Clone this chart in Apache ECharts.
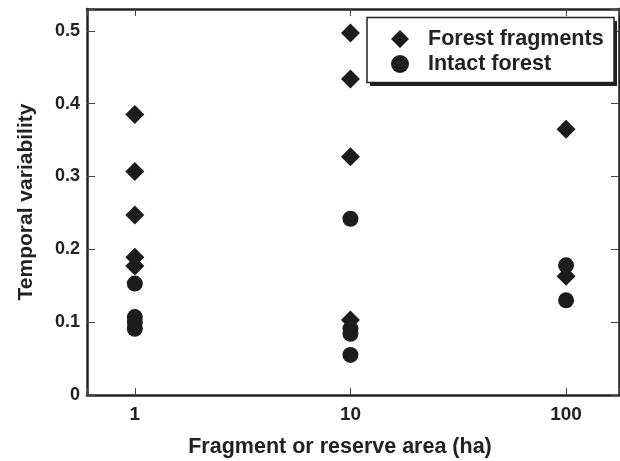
<!DOCTYPE html>
<html>
<head>
<meta charset="utf-8">
<script src="https://cdn.jsdelivr.net/npm/echarts@6/dist/echarts.min.js"></script>
<style>html,body{margin:0;padding:0;background:#fff;}#c{width:620px;height:461px;}</style>
</head>
<body>
<div id="c"></div>
<script>
var fragArea = [1, 1, 1, 1, 1, 10, 10, 10, 10, 100, 100];
var fragValues = [0.385, 0.307, 0.247, 0.189, 0.177, 0.497, 0.434, 0.327, 0.103, 0.365, 0.163];
var intactArea = [1, 1, 1, 1, 10, 10, 10, 10, 100, 100];
var intactValues = [0.153, 0.107, 0.100, 0.091, 0.242, 0.091, 0.084, 0.055, 0.178, 0.130];
var xTicks = [1, 10, 100];
var yTicks = [0, 0.1, 0.2, 0.3, 0.4, 0.5];
var seriesNames = ['Forest fragments', 'Intact forest'];

function pairs(xs, ys) { return xs.map(function (x, i) { return [x, ys[i]]; }); }

var ink = '#222';
var font = 'Liberation Sans, Arial, sans-serif';
function yFmt(v) {
  for (var i = 0; i < yTicks.length; i++) if (Math.abs(v - yTicks[i]) < 1e-9) return yTicks[i] === 0 ? '0' : yTicks[i].toFixed(1);
  return '';
}
function xFmt(v) {
  for (var i = 0; i < xTicks.length; i++) if (Math.abs(v - xTicks[i]) < 1e-6 * xTicks[i]) return String(xTicks[i]);
  return '';
}
var lineStyle = { color: ink, width: 2.5 };
var tickStyle = { color: '#444', width: 1 };

var chart = echarts.init(document.getElementById('c'), null, { renderer: 'canvas' });
chart.setOption({
  animation: false,
  backgroundColor: '#fff',
  grid: { left: 87, right: 1, top: 9, bottom: 66, containLabel: false, outerBoundsMode: 'none' },
  graphic: [{
    type: 'rect', z: 3, silent: true,
    shape: { x: 370, y: 21, width: 247, height: 65 },
    style: { fill: ink }
  }, {
    type: 'rect', z: 3, silent: true,
    shape: { x: 367, y: 17.5, width: 247, height: 65 },
    style: { fill: '#fff', stroke: ink, lineWidth: 1.5 }
  }],
  legend: {
    data: seriesNames,
    orient: 'vertical',
    left: 391, top: 28,
    padding: 0,
    itemGap: 3,
    itemWidth: 18, itemHeight: 18,
    z: 5,
    textStyle: { color: ink, fontFamily: font, fontWeight: 'bold', fontSize: 21.5, padding: [0, 0, 0, 14] }
  },
  xAxis: [{
    type: 'log', logBase: 10, min: 0.6, max: 176,
    position: 'bottom',
    name: 'Fragment or reserve area (ha)', nameLocation: 'middle', nameGap: 41,
    nameTextStyle: { color: ink, fontFamily: font, fontWeight: 'bold', fontSize: 21.5, padding: [0, 26, 0, 0] },
    axisLine: { show: true, onZero: false, lineStyle: lineStyle },
    axisTick: { show: true, inside: true, length: 7, lineStyle: tickStyle },
    axisLabel: { formatter: xFmt, color: ink, fontFamily: font, fontWeight: 'bold', fontSize: 19, margin: 10 },
    splitLine: { show: false }, minorTick: { show: false }
  }, {
    type: 'log', logBase: 10, min: 0.6, max: 176,
    position: 'top',
    axisLine: { show: true, onZero: false, lineStyle: lineStyle },
    axisTick: { show: true, inside: true, length: 7, lineStyle: tickStyle },
    axisLabel: { show: false },
    splitLine: { show: false }
  }],
  yAxis: [{
    type: 'value', min: 0, max: 0.53, interval: 0.1,
    position: 'left',
    name: 'Temporal variability', nameLocation: 'middle', nameGap: 50, nameRotate: 90,
    nameTextStyle: { color: ink, fontFamily: font, fontWeight: 'bold', fontSize: 21 },
    axisLine: { show: true, onZero: false, lineStyle: lineStyle },
    axisTick: { show: true, inside: true, length: 8, lineStyle: tickStyle },
    axisLabel: { formatter: yFmt, color: ink, fontFamily: font, fontWeight: 'bold', fontSize: 18, margin: 7 },
    splitLine: { show: false }
  }, {
    type: 'value', min: 0, max: 0.53, interval: 0.1,
    position: 'right',
    axisLine: { show: true, onZero: false, lineStyle: lineStyle },
    axisTick: { show: true, inside: true, length: 8, lineStyle: tickStyle },
    axisLabel: { show: false },
    splitLine: { show: false }
  }],
  series: [{
    name: seriesNames[0], type: 'scatter', symbol: 'diamond', symbolSize: 19,
    itemStyle: { color: '#1c1c1c', opacity: 1 },
    data: pairs(fragArea, fragValues), z: 3
  }, {
    name: seriesNames[1], type: 'scatter', symbol: 'circle', symbolSize: 16,
    itemStyle: { color: '#1c1c1c', opacity: 1 },
    data: pairs(intactArea, intactValues), z: 2
  }]
});
</script>
</body>
</html>
